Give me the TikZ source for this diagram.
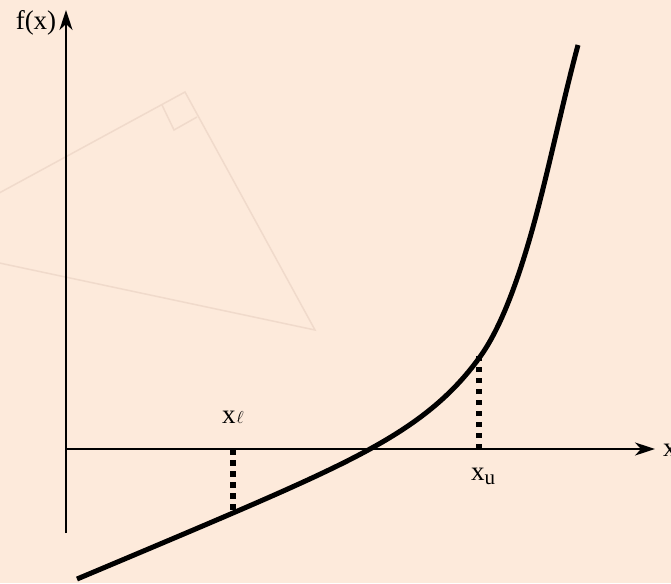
\documentclass[tikz,border=0pt]{standalone}
\usepackage{fontspec}
\setmainfont{Liberation Serif}
\usetikzlibrary{arrows.meta}
\definecolor{bgc}{HTML}{FDEADB}
\definecolor{faint}{HTML}{F0DACB}
\tikzset{
  axis/.style={line width=2.2pt,-{Stealth[length=20pt,width=13pt,inset=6pt]}},
  curve/.style={line width=5pt},
  dots/.style={line width=5.5pt,dash pattern=on 5.5pt off 5.5pt},
  ghost/.style={faint,line width=1.5pt},
  lbl/.style={inner sep=0pt,font=\fontsize{27}{29}\selectfont}
}
\begin{document}
\begin{tikzpicture}[x=1pt,y=-1pt]
\fill[bgc] (0,0) rectangle (671,583);
\useasboundingbox (0,0) rectangle (671,583);
% faint background triangle
\coordinate (tA) at (185,92);
\coordinate (tB) at (315,330);
\coordinate (tL) at (-10,198);
\coordinate (tR) at (-10,261);
\draw[ghost] (tL) -- (tA) -- (tB) -- (tR);
\coordinate (m1) at (162,105);
\coordinate (m2) at (174,130);
\coordinate (m3) at (197,117);
\draw[ghost] (m1) -- (m2) -- (m3);
% axes
\coordinate (ybot) at (66,533);
\coordinate (ytop) at (66,10);
\coordinate (xleft) at (66,449);
\coordinate (xright) at (655,449);
\draw[axis] (ybot) -- (ytop);
\draw[axis] (xleft) -- (xright);
% curve
\coordinate (c4) at (533,227);
\coordinate (c5) at (578,45);
\draw[curve] plot[domain=77:480,samples=120,smooth]
    (\x,{449-(7*(exp(0.0184*(\x-370))-1)+0.42*(\x-370))})
  .. controls (497.7,332.4) and (515.3,290.7) .. (c4)
  .. controls (548,173) and (563,100.5) .. (c5);
% dotted verticals
\coordinate (la) at (233,449);
\coordinate (lc) at (233,513);
\coordinate (ua) at (479,449);
\coordinate (uc) at (479,356);
\draw[dots] (la) -- (lc);
\draw[dots] (ua) -- (uc);
% labels
\node[lbl,anchor=base] (fx) at (36,30) {f(x)};
\node[lbl,anchor=base west] (xx) at (663,456) {x};
\node[lbl,anchor=base west] (xl) at (222,423) {x\kern1pt{\fontsize{16}{16}\selectfont$\ell$}};
\node[lbl,anchor=base west] (xu) at (471,480) {x\raisebox{-4pt}{\fontsize{21}{21}\selectfont u}};
\end{tikzpicture}
\end{document}
